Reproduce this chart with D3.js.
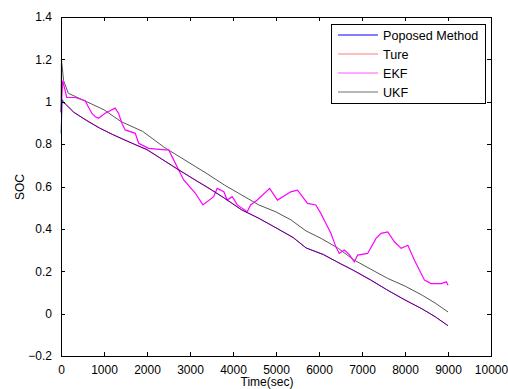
<!DOCTYPE html>
<html>
<head>
<meta charset="utf-8">
<script src="https://cdn.jsdelivr.net/npm/d3@7"></script>
<style>
  body { margin: 0; background: #fff; }
  svg { display: block; font-family: Arial, "Liberation Sans", sans-serif; }
  .tick text { font-size: 12px; fill: #000; }
  .lbl { font-size: 12px; fill: #000; }
  .leg { font-size: 12.6px; fill: #000; }
</style>
</head>
<body>
<svg id="chart"></svg>
<script>
const W = 508, H = 389;

// series (time in sec, SOC)
const tProposed = [0, 30, 60, 100, 300, 600, 900, 1200, 1400, 1700, 2000, 2300, 2600, 3000, 3500, 3800, 4200, 4600, 5000, 5400, 5700, 6100, 6500, 6800, 7200, 7600, 8000, 8400, 8700, 9000];
const proposed = [0.85, 1.01, 1.0, 0.99, 0.95, 0.91, 0.875, 0.845, 0.828, 0.80, 0.775, 0.735, 0.695, 0.645, 0.583, 0.545, 0.49, 0.45, 0.405, 0.36, 0.31, 0.28, 0.235, 0.205, 0.16, 0.11, 0.065, 0.022, -0.015, -0.057];
const ture = [1.0, 1.0, 0.995, 0.99, 0.95, 0.912, 0.876, 0.846, 0.826, 0.80, 0.773, 0.735, 0.697, 0.646, 0.585, 0.545, 0.49, 0.45, 0.405, 0.358, 0.31, 0.278, 0.236, 0.204, 0.158, 0.11, 0.064, 0.022, -0.014, -0.057];

const tEkf = [0, 40, 133, 330, 560, 716, 793, 870, 1027, 1260, 1337, 1416, 1493, 1727, 1805, 2037, 2426, 2503, 2583, 2737, 2854, 3126, 3300, 3550, 3632, 3787, 3865, 3982, 4099, 4332, 4410, 4565, 4853, 5033, 5343, 5500, 5733, 5926, 6043, 6120, 6276, 6393, 6470, 6587, 6700, 6820, 6898, 7131, 7326, 7443, 7600, 7754, 7910, 8066, 8220, 8454, 8610, 8843, 8960, 9000];
const ekf = [0.95, 1.10, 1.02, 1.02, 1.005, 0.946, 0.93, 0.922, 0.946, 0.97, 0.946, 0.899, 0.867, 0.851, 0.804, 0.78, 0.773, 0.773, 0.741, 0.678, 0.631, 0.568, 0.513, 0.552, 0.591, 0.575, 0.536, 0.552, 0.513, 0.481, 0.513, 0.536, 0.591, 0.536, 0.575, 0.583, 0.52, 0.513, 0.473, 0.442, 0.379, 0.315, 0.284, 0.30, 0.28, 0.244, 0.276, 0.284, 0.355, 0.379, 0.386, 0.339, 0.308, 0.323, 0.252, 0.158, 0.142, 0.142, 0.15, 0.134];

const tUkf = [0, 10, 60, 170, 330, 600, 1000, 1400, 1900, 2400, 2800, 3000, 3400, 3800, 4200, 4600, 5000, 5350, 5700, 6050, 6450, 6800, 7200, 7600, 8000, 8400, 8700, 9000];
const ukf = [0.95, 1.2, 1.1, 1.04, 1.025, 1.0, 0.962, 0.906, 0.86, 0.785, 0.735, 0.71, 0.66, 0.607, 0.56, 0.513, 0.48, 0.442, 0.39, 0.355, 0.308, 0.255, 0.21, 0.166, 0.13, 0.087, 0.05, 0.008];

const xTicks = [0, 1000, 2000, 3000, 4000, 5000, 6000, 7000, 8000, 9000, 10000];
const yTicks = [-0.2, 0, 0.2, 0.4, 0.6, 0.8, 1, 1.2, 1.4];

const legendNames = ["Poposed Method", "Ture", "EKF", "UKF"];
const legendColors = ["#0000ff", "#ff7a7a", "#ff55ff", "#707070"];

const svg = d3.select("#chart").attr("width", W).attr("height", H);

const margin = { top: 17, right: 17, bottom: 33, left: 61 };
const innerW = W - margin.left - margin.right;
const innerH = H - margin.top - margin.bottom;

const g = svg.append("g").attr("transform", `translate(${margin.left},${margin.top})`);

const x = d3.scaleLinear().domain([0, 10000]).range([0, innerW]);
const y = d3.scaleLinear().domain([-0.2, 1.4]).range([innerH, 0]);

const line = d3.line().x(d => x(d[0])).y(d => y(d[1]));
const pairs = (ts, vs) => ts.map((t, i) => [t, vs[i]]);

// lines: red under blue, then ukf, ekf
g.append("path").datum(pairs(tUkf, ukf))
    .attr("d", line).attr("fill", "none").attr("stroke", "#555").attr("stroke-width", 1);
g.append("path").datum(pairs(tEkf, ekf))
    .attr("d", line).attr("fill", "none").attr("stroke", "#ff00ff").attr("stroke-width", 1.2);
g.append("path").datum(pairs(tProposed, ture))
    .attr("d", line).attr("fill", "none").attr("stroke", "#ff0000").attr("stroke-width", 1);
g.append("path").datum(pairs(tProposed, proposed))
    .attr("d", line).attr("fill", "none").attr("stroke", "#0000ff").attr("stroke-opacity", 0.7).attr("stroke-width", 1);

// box
g.append("rect").attr("width", innerW).attr("height", innerH)
    .attr("fill", "none").attr("stroke", "#000").attr("stroke-width", 1)
    .attr("shape-rendering", "crispEdges");

// axes with inward ticks on all sides
const fmtY = d => d3.format("")(+d.toFixed(1));
g.append("g").attr("transform", `translate(0,${innerH})`)
    .call(d3.axisBottom(x).tickValues(xTicks).tickSizeInner(-4).tickSizeOuter(0).tickPadding(9).tickFormat(d3.format("d")))
    .call(a => a.select(".domain").remove());
g.append("g")
    .call(d3.axisTop(x).tickValues(xTicks).tickSizeInner(-4).tickSizeOuter(0).tickFormat(""))
    .call(a => a.select(".domain").remove());
g.append("g")
    .call(d3.axisLeft(y).tickValues(yTicks).tickSizeInner(-4).tickSizeOuter(0).tickPadding(9).tickFormat(fmtY))
    .call(a => a.select(".domain").remove());
g.append("g").attr("transform", `translate(${innerW},0)`)
    .call(d3.axisRight(y).tickValues(yTicks).tickSizeInner(-4).tickSizeOuter(0).tickFormat(""))
    .call(a => a.select(".domain").remove());
g.selectAll(".tick line").attr("stroke", "#000").attr("shape-rendering", "crispEdges");

// axis labels
svg.append("text").attr("class", "lbl")
    .attr("x", margin.left + x(5000) - 9).attr("y", 386)
    .attr("text-anchor", "middle").text("Time(sec)");
svg.append("text").attr("class", "lbl")
    .attr("transform", "translate(24,187) rotate(-90)")
    .attr("text-anchor", "middle").text("SOC");

// legend
const lg = svg.append("g").attr("transform", "translate(331,24)");
lg.append("rect").attr("width", 154).attr("height", 79)
    .attr("fill", "#fff").attr("stroke", "#000").attr("shape-rendering", "crispEdges");
legendNames.forEach((name, i) => {
    const yy = 11 + i * 19;
    lg.append("line").attr("x1", 7).attr("x2", 47).attr("y1", yy).attr("y2", yy)
        .attr("stroke", legendColors[i]).attr("stroke-width", 1);
    lg.append("text").attr("class", "leg").attr("x", 52).attr("y", yy + 4.5).text(name);
});
</script>
</body>
</html>
